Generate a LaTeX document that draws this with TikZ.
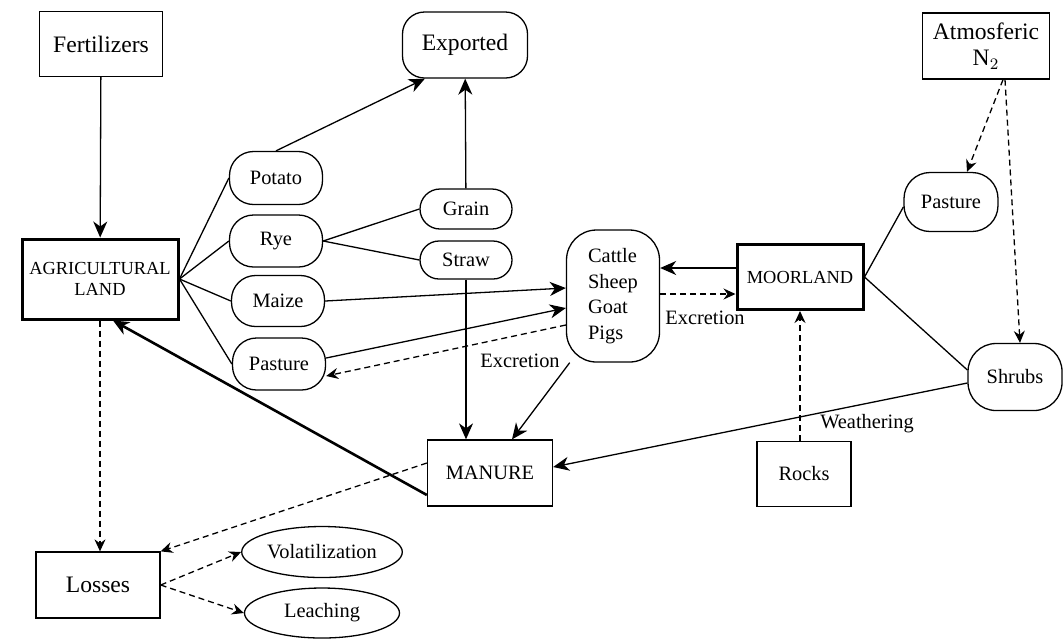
\documentclass[tikz,border=0pt]{standalone}
\usepackage{fontspec}
\setmainfont{Liberation Serif}
\usetikzlibrary{arrows.meta, shapes.geometric}

\tikzset{
    sq/.style = {draw, line width = 0.65pt, align = center},
    main/.style = {sq, line width = 1.5pt, font = \fontsize{9.2}{10.8}\selectfont},
    pill/.style = {draw, line width = 0.65pt, rounded corners = 12pt, align = left},
    oval/.style = {draw, ellipse, line width = 0.65pt},
    big/.style = {font = \fontsize{11.8}{13}\selectfont},
    link/.style = {line width = 0.65pt},
    flow/.style = {link, -{Stealth[length = 8pt, width = 7pt, inset = 2.5pt]}},
    dflow/.style = {link, dash pattern = on 3pt off 2pt, -{Stealth[length = 6pt, width = 5.5pt, inset = 2pt]}}
}

\begin{document}
\begin{tikzpicture}[x = 0.5pt, y = -0.5pt, every node/.append style = {font = \fontsize{10.2}{12.8}\selectfont, inner sep = 1pt}]
    \useasboundingbox (0, 0) rectangle (1063, 639);

    % sources and sinks
    \node[sq, big, minimum width = 61.5pt, minimum height = 32.5pt] (fert) at (101, 44) {Fertilizers};
    \node[pill, big, rounded corners = 11pt, minimum width = 62.5pt, minimum height = 33pt] (expo) at (465, 45) {Exported};
    \node[sq, big, minimum width = 63.5pt, minimum height = 33pt, inner sep = 0pt] (atmo) at (986, 46) {Atmosferic\\N$_2$};
    \node[main, minimum width = 78pt, minimum height = 40pt] (agri) at (100, 279) {AGRICULTURAL\\LAND};
    \node[main, minimum width = 63pt, minimum height = 32.5pt] (moor) at (800, 277) {MOORLAND};
    \node[sq, minimum width = 62.5pt, minimum height = 33pt] (manure) at (490, 473) {MANURE};
    \node[sq, minimum width = 47pt, minimum height = 32.5pt] (rocks) at (804, 474) {Rocks};
    \node[sq, big, minimum width = 62pt, minimum height = 33pt] (losses) at (98, 585) {Losses};

    % crops
    \node[pill, minimum width = 46.5pt, minimum height = 26.5pt] (pota) at (276, 178) {Potato};
    \node[pill, minimum width = 46.5pt, minimum height = 26pt] (rye) at (276, 241) {Rye};
    \node[pill, minimum width = 46.5pt, minimum height = 25.5pt] (maize) at (278, 301) {Maize};
    \node[pill, minimum width = 46.5pt, minimum height = 26pt] (pastl) at (279, 364) {Pasture};
    \node[pill, rounded corners = 10pt, minimum width = 46pt, minimum height = 20pt] (grain) at (466, 209) {Grain};
    \node[pill, rounded corners = 9.5pt, minimum width = 46pt, minimum height = 19pt] (straw) at (466, 260) {Straw};
    \node[pill, rounded corners = 15pt, minimum width = 46.5pt, minimum height = 66pt] (cattle) at (613, 296) {Cattle\\Sheep\\Goat\\Pigs};
    \node[pill, rounded corners = 13pt, minimum width = 47pt, minimum height = 29.5pt] (pastr) at (951, 202) {Pasture};
    \node[pill, rounded corners = 14pt, minimum width = 47pt, minimum height = 33.5pt] (shrubs) at (1015, 377) {Shrubs};
    \node[oval, minimum width = 77.5pt, minimum height = 25.5pt] (vola) at (322, 552) {Volatilization};
    \node[oval, minimum width = 77.5pt, minimum height = 25pt] (leach) at (322, 613) {Leaching};

    % labels
    \node (excl) at (520, 361) {Excretion};
    \node (excr) at (705, 318) {Excretion};
    \node (weath) at (867, 424) {Weathering};

    % flows
    \draw[flow] (fert) -- (agri);
    \draw[flow] (pota.north) -- (expo.220);
    \draw[flow] (grain) -- (expo);
    \foreach \c in {pota, rye, maize, pastl}{
        \draw[link] (agri.east) -- (\c.west);
    }
    \foreach \c in {grain, straw}{
        \draw[link] (rye.east) -- (\c.west);
    }
    \draw[flow] (straw.south) -- (straw.south |- manure.north);
    \draw[flow] (maize.east) -- ([yshift = 4pt]cattle.west);
    \draw[flow] ([yshift = 3pt]pastl.east) -- ([yshift = -6pt]cattle.west);
    \draw[dflow] ([yshift = -14.5pt]cattle.west) -- ([yshift = -6pt]pastl.east);
    \draw[flow] (cattle.237) -- ([xshift = 11pt]manure.north);
    \draw[flow] ([yshift = 4.5pt]moor.west) -- ([yshift = 4.5pt]moor.west -| cattle.east);
    \draw[dflow] ([yshift = -8.5pt]moor.west -| cattle.east) -- ([yshift = -8.5pt]moor.west);
    \draw[link] (moor.east) -- ([yshift = -2.5pt]pastr.west);
    \draw[link] (moor.east) -- ([yshift = 3.5pt]shrubs.west);
    \draw[dflow] ([xshift = 8.5pt]atmo.south) -- ([xshift = 8pt]pastr.north);
    \draw[dflow] ([xshift = 9.5pt]atmo.south) -- ([xshift = 2.5pt]shrubs.north);
    \draw[flow] ([yshift = -3pt]shrubs.west) -- ([yshift = 3pt]manure.east);
    \draw[dflow] ([xshift = -2pt]rocks.north) -- ([xshift = -2pt]rocks.north |- moor.south);
    \draw[flow, line width = 1.3pt] ([yshift = -11pt]manure.west) -- ([xshift = 6.5pt]agri.south);
    \draw[dflow] ([yshift = 5pt]manure.west) -- (losses.north east);
    \draw[dflow] (agri.south) -- (agri.south |- losses.north);
    \draw[dflow] (losses.east) -- (vola.west);
    \draw[dflow] (losses.east) -- (leach.west);
\end{tikzpicture}
\end{document}
